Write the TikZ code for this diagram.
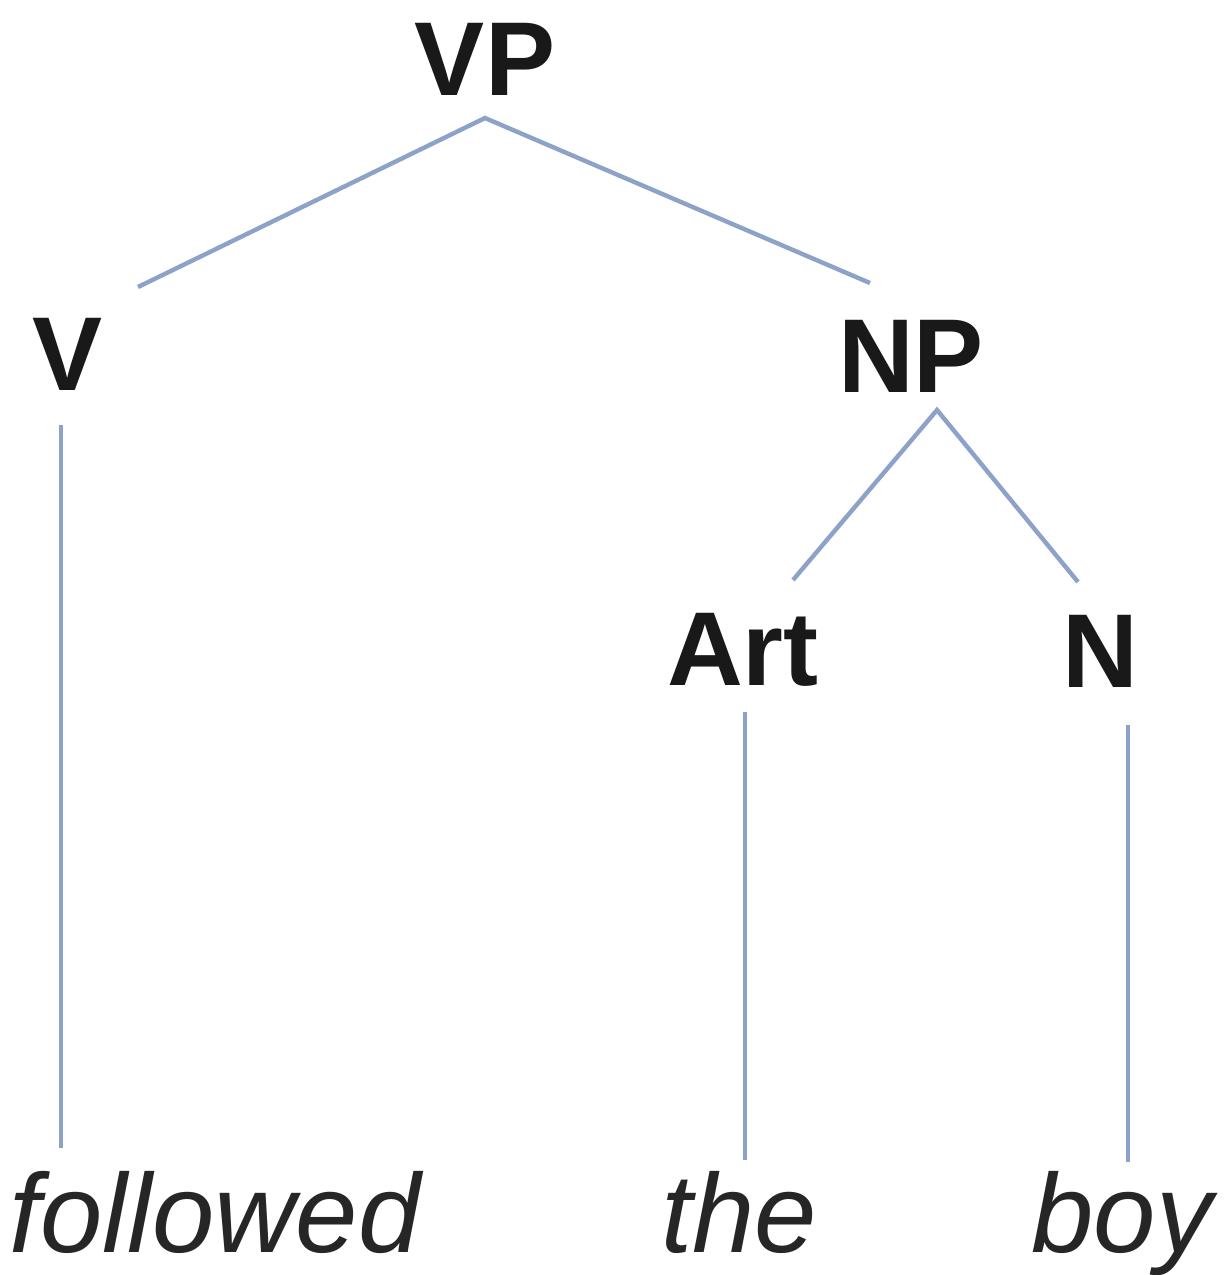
\documentclass[tikz,border=0pt]{standalone}
\usepackage{fontspec}
\setmainfont{Liberation Sans}
\definecolor{branchblue}{HTML}{8CA2C9}
\begin{document}
\begin{tikzpicture}[x=0.5pt,y=-0.5pt,
  cat/.style={inner sep=0pt, anchor=base, font=\fontsize{52.5}{60}\selectfont\bfseries, text=black!90},
  word/.style={inner sep=0pt, anchor=base, font=\fontsize{56}{64}\selectfont\itshape, text=black!85},
  branch/.style={draw=branchblue, line width=2.2pt}]
\useasboundingbox (0,0) rectangle (1225,1275);
% category labels
\node[cat] (vp)  at (485,95)   {VP};
\node[cat] (v)   at (68,390)   {V};
\node[cat] (np)  at (911,392)  {NP};
\node[cat] (art) at (743,685)  {Art};
\node[cat] (n)   at (1100,687) {N};
% words
\node[word] (followed) at (215,1252) {followed};
\node[word] (the)      at (739,1252) {the};
\node[word] (boy)      at (1122,1252) {boy};
% branch attachment points
\coordinate (vpT) at (485,118);
\coordinate (vT)  at (138,287);
\coordinate (npT) at (870,283);
\coordinate (npB) at (937,410);
\coordinate (artT) at (793,580);
\coordinate (nT)  at (1078,582);
\coordinate (vB)  at (61,425);
\coordinate (fT)  at (61,1148);
\coordinate (artB) at (745,712);
\coordinate (theT) at (745,1160);
\coordinate (nB)  at (1128,725);
\coordinate (boyT) at (1128,1162);
% branches
\draw[branch] (vT) -- (vpT) -- (npT);
\draw[branch] (artT) -- (npB) -- (nT);
\draw[branch] (vB) -- (fT);
\draw[branch] (artB) -- (theT);
\draw[branch] (nB) -- (boyT);
\end{tikzpicture}
\end{document}
